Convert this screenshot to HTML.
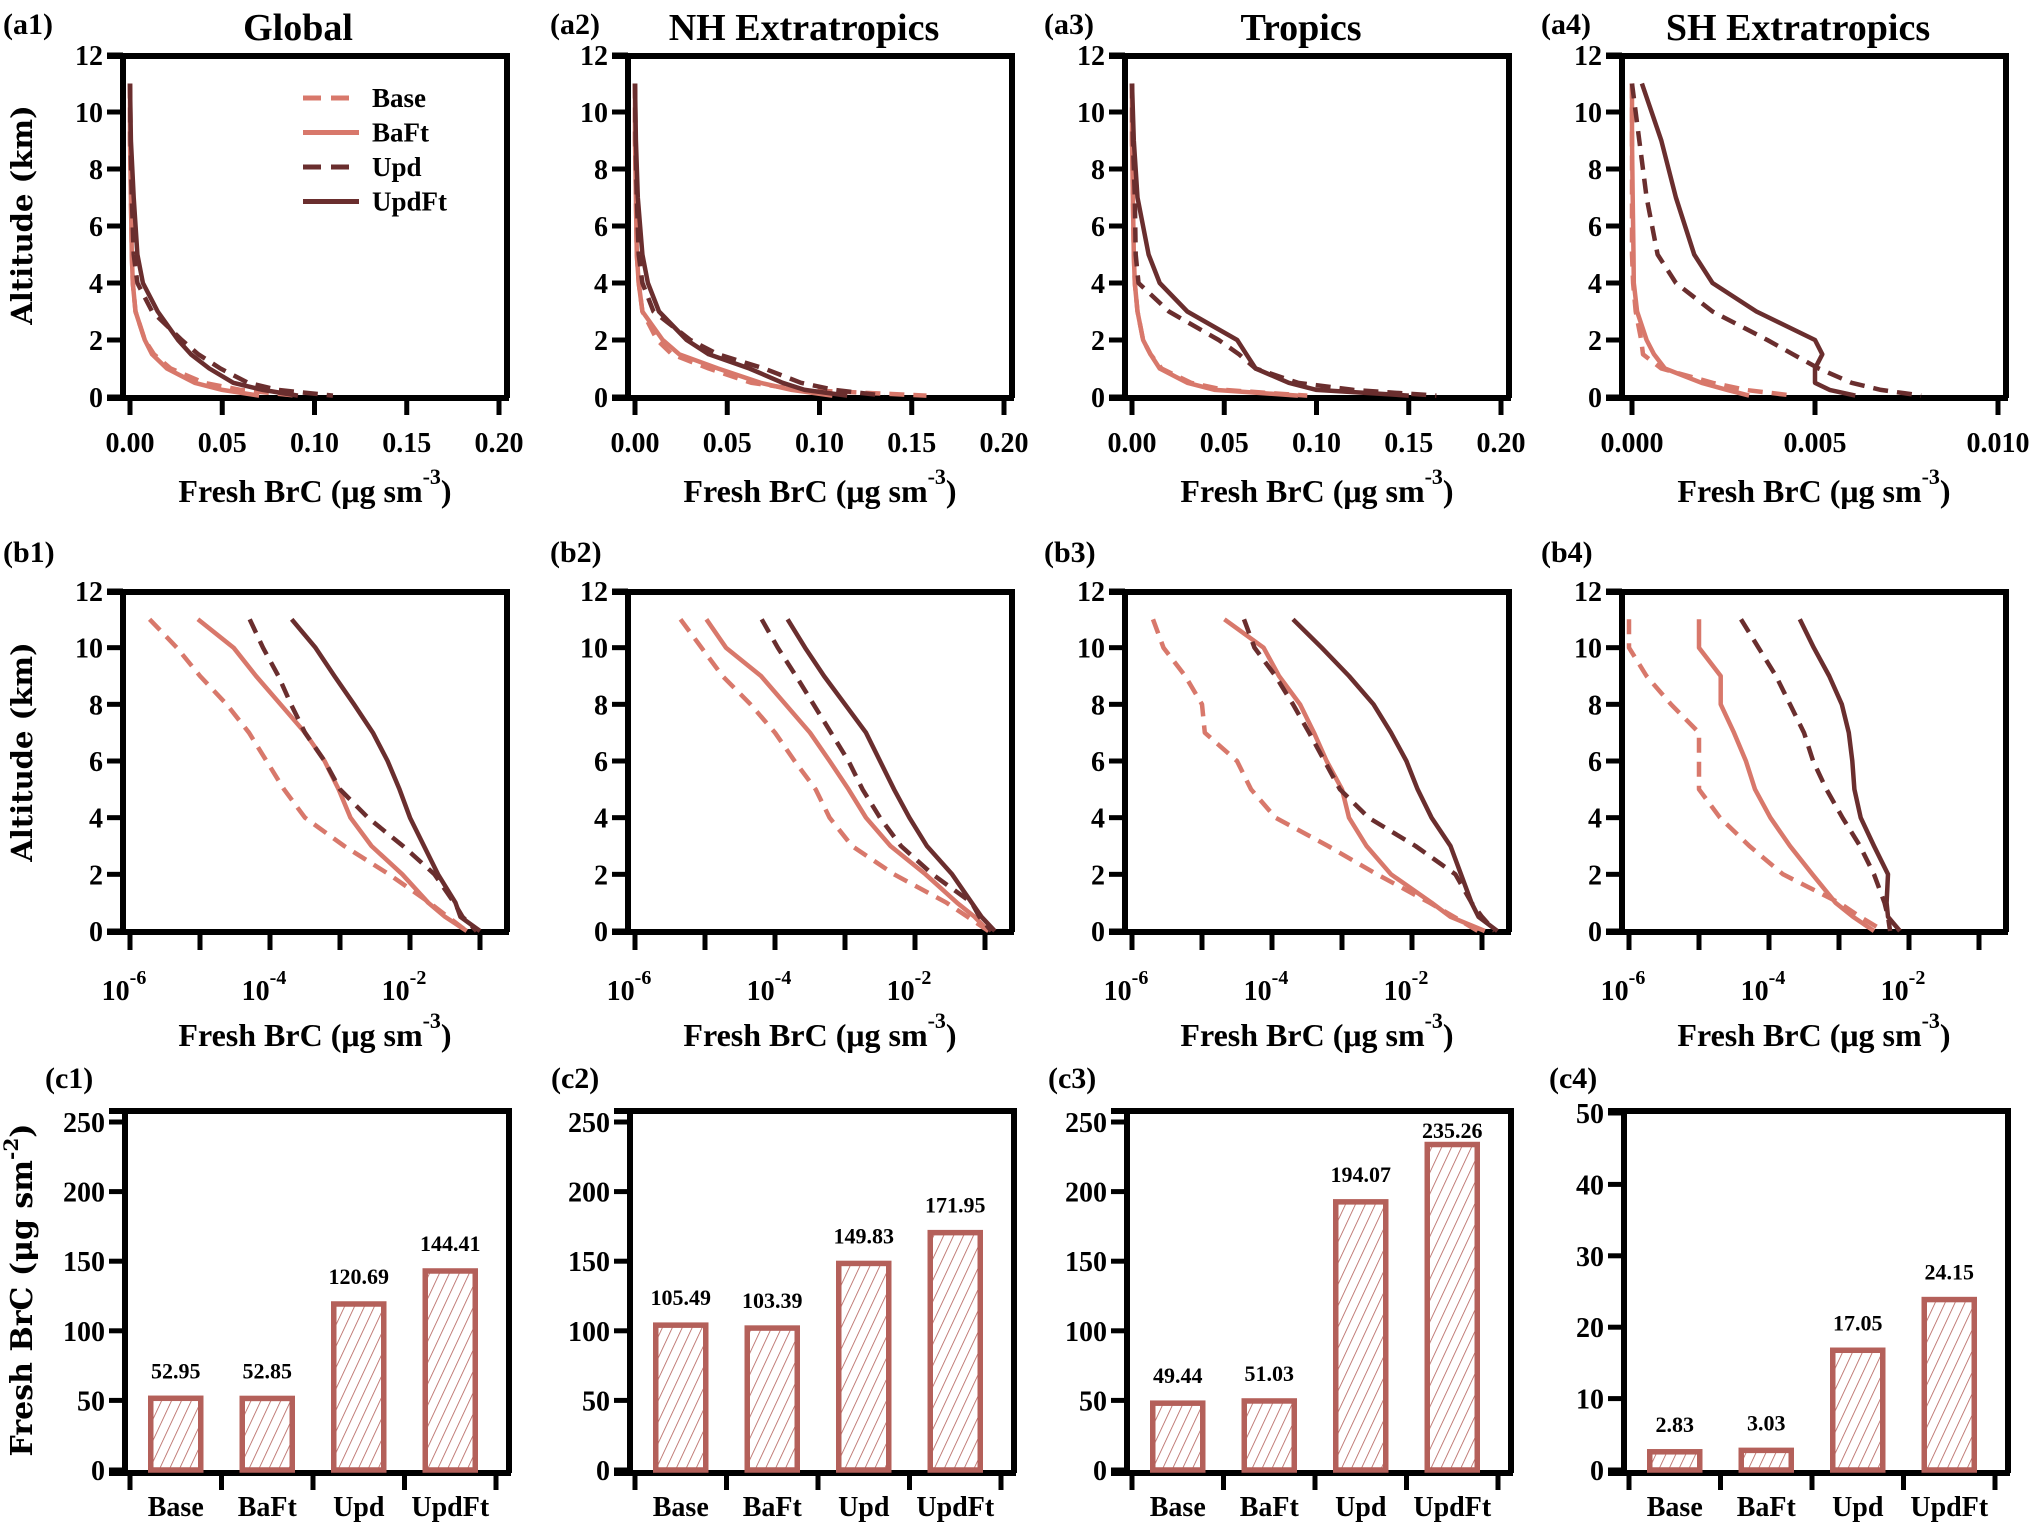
<!DOCTYPE html>
<html><head><meta charset="utf-8"><style>
html,body{margin:0;padding:0;background:#fff;}
svg{display:block;font-family:"Liberation Serif",serif;font-weight:bold;}
</style></head><body>
<svg id="chart" width="2034" height="1524" viewBox="0 0 2034 1524" xmlns="http://www.w3.org/2000/svg">
<defs>
<pattern id="hatch" width="9" height="9" patternUnits="userSpaceOnUse" patternTransform="rotate(25)">
<line x1="0" y1="0" x2="0" y2="9" stroke="#b4605a" stroke-width="1.6"/>
</pattern>
</defs>
</svg>
<script>
// ---- data ----
const levelsA=[11,9,7,5,4,3,2,1.5,1,0.5,0.25,0.05];
const globalBase=[0,0,0.0005,0.001,0.0015,0.003,0.008,0.013,0.022,0.040,0.060,0.090];
const globalBaFt=[0,0,0.0005,0.001,0.0015,0.003,0.008,0.012,0.020,0.035,0.050,0.070];
const globalUpd=[0,0.0003,0.001,0.002,0.004,0.012,0.028,0.037,0.049,0.064,0.080,0.110];
const globalUpdFt=[0,0.0005,0.002,0.004,0.007,0.015,0.026,0.033,0.043,0.056,0.072,0.091];
const nhBase=[0,0,0.0005,0.001,0.002,0.004,0.012,0.020,0.040,0.063,0.090,0.158];
const nhBaFt=[0,0,0.0005,0.001,0.002,0.004,0.015,0.024,0.045,0.068,0.085,0.107];
const nhUpd=[0,0.0003,0.001,0.002,0.004,0.010,0.030,0.045,0.070,0.090,0.108,0.135];
const nhUpdFt=[0,0.0005,0.0015,0.004,0.007,0.013,0.028,0.040,0.062,0.080,0.092,0.115];
const trBase=[0,0,0.0005,0.001,0.0015,0.003,0.006,0.010,0.016,0.032,0.050,0.095];
const trBaFt=[0,0,0.0005,0.001,0.0015,0.003,0.006,0.010,0.015,0.030,0.045,0.090];
const trUpd=[0,0.0005,0.0015,0.002,0.0035,0.020,0.047,0.058,0.067,0.090,0.120,0.165];
const trUpdFt=[0,0.001,0.003,0.009,0.015,0.030,0.057,0.062,0.067,0.085,0.100,0.150];
const shBase=[0,0,0,0,0.00003,0.0001,0.00025,0.0003,0.0008,0.0022,0.0031,0.0044];
const shBaFt=[0,0,0.00002,0.00004,0.00005,0.00014,0.0004,0.0006,0.0009,0.0019,0.0026,0.0032];
const shUpd=[0,0.0002,0.0004,0.0007,0.0012,0.0022,0.0037,0.0044,0.0051,0.0060,0.0068,0.0079];
const shUpdFt=[0.00027,0.0008,0.0012,0.0017,0.0022,0.0034,0.0050,0.0052,0.0050,0.0050,0.0054,0.0061];

const levelsB=[11,10,9,8,7,6,5,4,3,2,1,0.5,0];
const logGlobalBase=[-5.72,-5.33,-5.0,-4.62,-4.3,-4.05,-3.8,-3.5,-2.94,-2.3,-1.72,-1.46,-1.19];
const logGlobalBaFt=[-5.03,-4.52,-4.2,-3.85,-3.5,-3.22,-3.02,-2.85,-2.55,-2.11,-1.74,-1.5,-1.19];
const logGlobalUpd=[-4.29,-4.1,-3.88,-3.7,-3.5,-3.22,-3.0,-2.6,-2.1,-1.65,-1.37,-1.25,-1.05];
const logGlobalUpdFt=[-3.69,-3.35,-3.08,-2.8,-2.53,-2.32,-2.15,-2.0,-1.8,-1.6,-1.35,-1.28,-1.0];
const logNhBase=[-5.35,-5.05,-4.75,-4.35,-4.0,-3.72,-3.42,-3.22,-2.9,-2.3,-1.55,-1.25,-0.95];
const logNhBaFt=[-4.98,-4.7,-4.2,-3.85,-3.5,-3.22,-2.95,-2.7,-2.35,-1.85,-1.4,-1.15,-0.95];
const logNhUpd=[-4.19,-3.96,-3.7,-3.45,-3.2,-2.95,-2.75,-2.5,-2.2,-1.75,-1.19,-1.08,-0.91];
const logNhUpdFt=[-3.82,-3.57,-3.3,-3.0,-2.7,-2.5,-2.3,-2.08,-1.83,-1.47,-1.19,-1.05,-0.86];
const logTrBase=[-5.7,-5.55,-5.24,-5.0,-4.96,-4.5,-4.3,-3.95,-3.2,-2.5,-1.75,-1.4,-1.06];
const logTrBaFt=[-4.68,-4.12,-3.9,-3.6,-3.4,-3.22,-3.0,-2.9,-2.65,-2.3,-1.72,-1.45,-0.96];
const logTrUpd=[-4.4,-4.25,-3.95,-3.7,-3.47,-3.25,-3.03,-2.62,-1.95,-1.38,-1.15,-1.0,-0.82];
const logTrUpdFt=[-3.7,-3.29,-2.9,-2.55,-2.3,-2.08,-1.92,-1.72,-1.45,-1.3,-1.15,-1.05,-0.78];
const logShBase=[-6.0,-6.0,-5.75,-5.4,-5.0,-5.0,-5.0,-4.7,-4.28,-3.8,-3.0,-2.7,-2.36];
const logShBaFt=[-5.0,-5.0,-4.69,-4.69,-4.5,-4.33,-4.2,-3.98,-3.7,-3.38,-3.05,-2.8,-2.5];
const logShUpd=[-4.4,-4.15,-3.9,-3.7,-3.5,-3.37,-3.18,-2.95,-2.7,-2.5,-2.35,-2.3,-2.27];
const logShUpdFt=[-3.56,-3.36,-3.14,-2.96,-2.86,-2.81,-2.78,-2.69,-2.5,-2.3,-2.32,-2.3,-2.13];

const barCategories=["Base","BaFt","Upd","UpdFt"];
const barsGlobal=[52.95,52.85,120.69,144.41];
const barsNh=[105.49,103.39,149.83,171.95];
const barsTr=[49.44,51.03,194.07,235.26];
const barsSh=[2.83,3.03,17.05,24.15];
const ticksLinear=["0.00","0.05","0.10","0.15","0.20"];
const ticksSh=["0.000","0.005","0.010"];
const ticksAlt=[0,2,4,6,8,10,12];
const ticksBar250=[0,50,100,150,200,250];
const ticksBar50=[0,10,20,30,40,50];
const regionTitles=["Global","NH Extratropics","Tropics","SH Extratropics"];

// ---- layout ----
const NS="http://www.w3.org/2000/svg";
const svg=document.getElementById('chart');
const colL=[123,628,1125,1622];
const W=384;
const SAL="#d8786b", DARK="#6a2e2e", BAR="#b4605a";
function mk(tag,attrs,parent){const e=document.createElementNS(NS,tag);for(const k in attrs)e.setAttribute(k,attrs[k]);(parent||svg).appendChild(e);return e;}
function txt(x,y,s,size,anchor,parent){const t=mk('text',{x:x,y:y,'font-size':size,'text-anchor':anchor||'middle'},parent);t.textContent=s;return t;}

function frame(L,top,bottom,g){
  const f=mk('path',{d:`M${L-16},${top} H${L+W} V${bottom} M${L},${top} V${bottom} M${L-16},${bottom} H${L+W+2}`,fill:'none',stroke:'#000','stroke-width':6},g);
  
  
}
function xTitle(L,y,sup,g){
  const t=mk('text',{x:L+W/2,y:y,'font-size':32,'text-anchor':'middle'},g);
  
  
  t.appendChild(document.createTextNode('Fresh BrC (μg sm'));
  const s=mk('tspan',{dy:-18,'font-size':22},t);s.textContent=sup;
  const c=mk('tspan',{dy:18},t);c.textContent=')';
}
function yAltTicks(L,yf,g){
  ticksAlt.forEach(v=>{
    const y=yf(v);
    mk('line',{x1:L-16,x2:L,y1:y,y2:y,stroke:'#000','stroke-width':5},g);
    const t=txt(L-20,y+10,String(v),28,'end',g);
    
    
  });
}
function line(pts,color,dashed,g,name){
  const p=mk('path',{d:'M'+pts.map(q=>q[0].toFixed(1)+','+q[1].toFixed(1)).join(' L'),fill:'none',stroke:color,'stroke-width':4.5,'stroke-linejoin':'round'},g);
  if(dashed)p.setAttribute('stroke-dasharray','15 9');
  
  
}
function panelLabel(x,y,s){const t=txt(x,y,s,30,'start');}
function yTitle(cx,cy,s,sup,size){
  const t=mk('text',{x:0,y:0,'font-size':size,'text-anchor':'middle',transform:`translate(${cx},${cy}) rotate(-90)`,'font-family':'"DejaVu Serif","Liberation Serif",serif'});
  
  
  t.appendChild(document.createTextNode(s));
  if(sup){const a=mk('tspan',{dy:-14,'font-size':20},t);a.textContent=sup;const b=mk('tspan',{dy:14},t);b.textContent=')';}
}

// ---- row a ----
const rowA=[[globalBase,globalBaFt,globalUpd,globalUpdFt,0.2],[nhBase,nhBaFt,nhUpd,nhUpdFt,0.2],[trBase,trBaFt,trUpd,trUpdFt,0.2],[shBase,shBaFt,shUpd,shUpdFt,0.01]];
const aLabels=["(a1)","(a2)","(a3)","(a4)"], aLabX=[3,550,1044,1541];
rowA.forEach((d,i)=>{
  const L=colL[i];
  const g=mk('g',{});
  
  
  const xmax=d[4];
  const off=(i===3)?10:7, span=(i===3)?366:369;
  const xf=v=>L+off+v/xmax*span;
  const yf=a=>397-a*342/12;
  frame(L,56,398,g);
  yAltTicks(L,yf,g);
  const labels=(i===3)?ticksSh:ticksLinear;
  labels.forEach((s,k)=>{
    const v=xmax*k/(labels.length-1);
    const x=xf(v);
    mk('line',{x1:x,x2:x,y1:398,y2:415,stroke:'#000','stroke-width':5},g);
    const t=txt(x,452,s,28,'middle',g);
    
    
  });
  const names=['base','baft','upd','updft'];
  const cols=[SAL,SAL,DARK,DARK], dash=[true,false,true,false];
  [0,1,3,2].forEach(s=>{
    line(levelsA.map((a,j)=>[xf(d[s][j]),yf(a)]),cols[s],dash[s],g,'line-'+names[s]);
  });
  xTitle(L,502,'-3',g);
  panelLabel(aLabX[i],34,aLabels[i]);
  const tt=txt(i===0?298:(i===1?804:(i===2?1301:1798)),40,regionTitles[i],38,'middle');
  
  
});
// legend
const legNames=["Base","BaFt","Upd","UpdFt"], legCols=[SAL,SAL,DARK,DARK], legDash=[true,false,true,false];
legNames.forEach((n,k)=>{
  const y=98+k*34.5;
  const g=mk('g',{});
  
  
  const l=mk('line',{x1:303,x2:359,y1:y,y2:y,stroke:legCols[k],'stroke-width':5},g);
  if(legDash[k])l.setAttribute('stroke-dasharray','18 10');
  txt(372,y+9,n,27,'start',g);
});

// ---- row b ----
const rowB=[[logGlobalBase,logGlobalBaFt,logGlobalUpd,logGlobalUpdFt],[logNhBase,logNhBaFt,logNhUpd,logNhUpdFt],[logTrBase,logTrBaFt,logTrUpd,logTrUpdFt],[logShBase,logShBaFt,logShUpd,logShUpdFt]];
const bLabels=["(b1)","(b2)","(b3)","(b4)"];
rowB.forEach((d,i)=>{
  const L=colL[i];
  const g=mk('g',{});
  
  
  const xf=e=>L+7+(e+6)*70;
  const yf=a=>931-a*340/12;
  frame(L,592,932,g);
  yAltTicks(L,yf,g);
  for(let e=-6;e<=-1;e++){
    const x=xf(e);
    mk('line',{x1:x,x2:x,y1:932,y2:950,stroke:'#000','stroke-width':5},g);
  }
  [-6,-4,-2].forEach(e=>{
    const t=mk('text',{x:xf(e)-6,y:1000,'font-size':28,'text-anchor':'middle'},g);
    
    
    t.appendChild(document.createTextNode('10'));
    const s=mk('tspan',{dy:-16,'font-size':20},t);s.textContent=String(e);
  });
  const names=['base','baft','upd','updft'];
  const cols=[SAL,SAL,DARK,DARK], dash=[true,false,true,false];
  [0,1,3,2].forEach(s=>{
    line(levelsB.map((a,j)=>[xf(d[s][j]),yf(a)]),cols[s],dash[s],g,'line-'+names[s]);
  });
  xTitle(L,1046,'-3',g);
  panelLabel(aLabX[i],562,bLabels[i]);
});

// ---- row c ----
const rowC=[[barsGlobal,250,ticksBar250],[barsNh,250,ticksBar250],[barsTr,250,ticksBar250],[barsSh,50,ticksBar50]];
const cLabels=["(c1)","(c2)","(c3)","(c4)"], cLabX=[45,551,1048,1549];
rowC.forEach((d,i)=>{
  const L=colL[i]+2;
  const g=mk('g',{});
  
  
  const vmax=d[1];
  const y0=1470, ytop=(vmax===250)?1122:1113;
  const yf=v=>y0-v/vmax*(y0-ytop);
  const xc=k=>L+5+91.5*(k+0.5);
  frame(L,1111,1473,g);
  d[2].forEach(v=>{
    const y=yf(v);
    mk('line',{x1:L-16,x2:L,y1:y,y2:y,stroke:'#000','stroke-width':5},g);
    const t=txt(L-20,y+10,String(v),28,'end',g);
    
    
  });
  for(let k=0;k<=4;k++){
    const x=L+5+91.5*k;
    mk('line',{x1:x,x2:x,y1:1473,y2:1490,stroke:'#000','stroke-width':5},g);
  }
  d[0].forEach((v,k)=>{
    const yv=yf(v);
    const r=mk('rect',{x:xc(k)-25,y:yv+2,width:50,height:Math.max(0,y0-yv-2),fill:'url(#hatch)',stroke:BAR,'stroke-width':5.5},g);
    
    
    const t=txt(xc(k),Math.max(yv-18,1138),v.toFixed(2),22,'middle',g);
    
    
    const c=txt(xc(k),1516,barCategories[k],28,'middle',g);
    
    
  });
  panelLabel(cLabX[i],1088,cLabels[i]);
});

yTitle(32,215,'Altitude (km)',null,29);
yTitle(32,752,'Altitude (km)',null,29);
yTitle(32,1290,'Fresh BrC (μg sm','-2',30);
</script>
</body></html>
